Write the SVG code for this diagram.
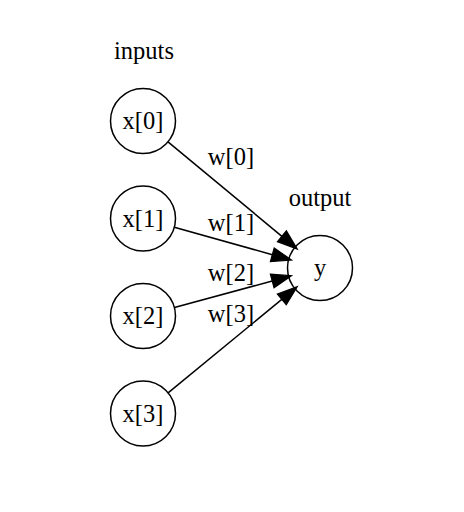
<svg xmlns="http://www.w3.org/2000/svg" width="464" height="512" viewBox="0 0 464 512">
<defs>
<style>
text{font-family:"Liberation Serif","Times New Roman",serif;font-size:24.5px;fill:#000;text-anchor:middle}
.node circle{fill:none;stroke:#000;stroke-width:1.5}
.edge{fill:none;stroke:#000;stroke-width:1.5;marker-end:url(#arr)}
</style>
<marker id="arr" markerUnits="userSpaceOnUse" markerWidth="20" markerHeight="16" refX="0" refY="6" orient="auto" viewBox="0 0 17 12" overflow="visible">
<path d="M0,0 L17,6 L0,12 z" fill="#000" stroke="#000" stroke-width="1"/>
</marker>
</defs>
<rect width="464" height="512" fill="#fff"/>
<text x="144" y="59">inputs</text>
<text x="320" y="206">output</text>
<g id="x0" class="node"><circle cx="143" cy="121" r="32.5"/><text x="143" y="129">x[0]</text></g>
<g id="x1" class="node"><circle cx="143" cy="218.5" r="32.5"/><text x="143" y="226.5">x[1]</text></g>
<g id="x2" class="node"><circle cx="143" cy="316" r="32.5"/><text x="143" y="324">x[2]</text></g>
<g id="x3" class="node"><circle cx="143" cy="413.5" r="32.5"/><text x="143" y="421.5">x[3]</text></g>
<g id="y" class="node"><circle cx="320" cy="268" r="32.5"/><text x="320" y="276">y</text></g>
<g id="edges">
<path class="edge" d="M168,141.8 L281.9,236.3"/>
<path class="edge" d="M174.3,227.2 L272.3,254.7"/>
<path class="edge" d="M174.4,307.5 L272.2,281"/>
<path class="edge" d="M168.1,392.9 L281.8,299.4"/>
<text x="231" y="165">w[0]</text>
<text x="231" y="230.5">w[1]</text>
<text x="231" y="280.5">w[2]</text>
<text x="231" y="322">w[3]</text>
</g>
</svg>
